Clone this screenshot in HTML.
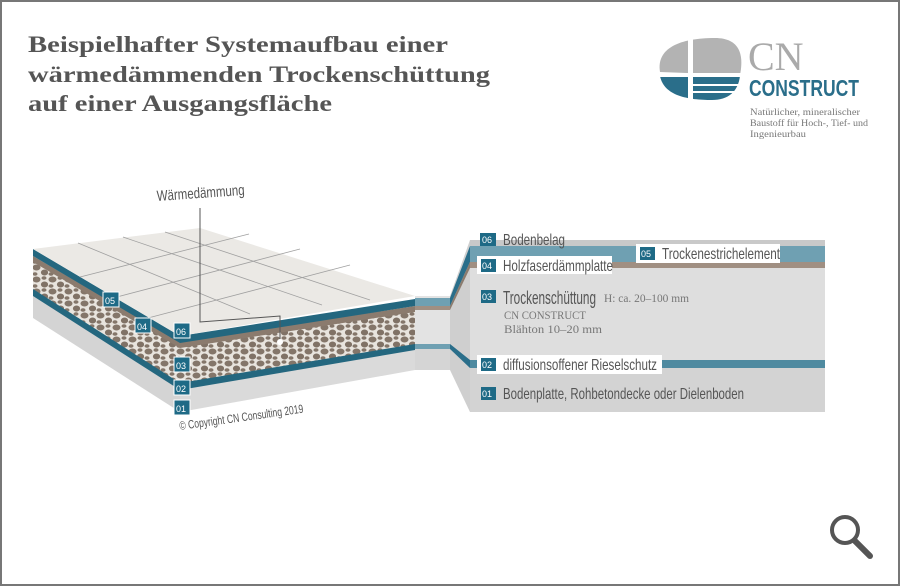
<!DOCTYPE html>
<html><head><meta charset="utf-8"><style>
html,body{margin:0;padding:0;background:#fff}
svg{display:block}
.t{font-family:"Liberation Serif",serif;font-weight:bold;font-size:23px;fill:#555}
.n{font-family:"Liberation Sans",sans-serif;fill:#555}
.num{font-family:"Liberation Sans",sans-serif;font-size:9px;fill:#fff}
.s{font-family:"Liberation Serif",serif;fill:#777}
</style></head><body>
<svg width="900" height="586" viewBox="0 0 900 586" xmlns="http://www.w3.org/2000/svg">
<rect x="1" y="1" width="898" height="584" fill="#fff" stroke="#777" stroke-width="2"/>
<text class="t" x="28" y="52" textLength="420" lengthAdjust="spacingAndGlyphs">Beispielhafter Systemaufbau einer</text>
<text class="t" x="28" y="82" textLength="462" lengthAdjust="spacingAndGlyphs">wärmedämmenden Trockenschüttung</text>
<text class="t" x="28" y="111" textLength="304" lengthAdjust="spacingAndGlyphs">auf einer Ausgangsfläche</text>

<path d="M660 72 C656 48 680 38 715 38 C740 38 744 55 740 75 Z" fill="#b3b3b3"/>
<path d="M660 76 L740 76 C738 92 728 100 712 100 C688 100 664 96 660 76 Z" fill="#2a6e8a"/>
<rect x="688" y="36" width="5" height="66" fill="#fff"/>
<rect x="656" y="73" width="88" height="4" fill="#fff"/>
<rect x="690" y="84" width="52" height="2" fill="#fff"/>
<rect x="690" y="91" width="52" height="2" fill="#fff"/>
<text x="748" y="70" font-family="Liberation Serif,serif" font-size="40" fill="#aaa">CN</text>
<text x="749" y="96" font-family="'Liberation Sans',sans-serif" font-weight="bold" font-size="23" fill="#2a6e8a" textLength="110" lengthAdjust="spacingAndGlyphs">CONSTRUCT</text>
<text class="s" x="750" y="115" font-size="9.5" textLength="110" lengthAdjust="spacingAndGlyphs">Natürlicher, mineralischer</text>
<text class="s" x="750" y="126" font-size="9.5" textLength="118" lengthAdjust="spacingAndGlyphs">Baustoff für Hoch-, Tief- und</text>
<text class="s" x="750" y="137" font-size="9.5" textLength="56" lengthAdjust="spacingAndGlyphs">Ingenieurbau</text>

<defs>
<pattern id="peb" width="16" height="12" patternUnits="userSpaceOnUse">
<rect width="16" height="12" fill="#e8e4de"/>
<ellipse cx="4.5" cy="3.5" rx="4" ry="3" fill="#84766a"/>
<ellipse cx="12.5" cy="8.5" rx="3.6" ry="3" fill="#807266"/>
<ellipse cx="3" cy="10" rx="2.5" ry="1.8" fill="#84766a"/>
<ellipse cx="12" cy="2" rx="2.5" ry="1.8" fill="#84766a"/>
</pattern>
</defs>
<polygon points="33,290 180,385 180,412 33,318" fill="#d4d4d4"/>
<polygon points="180,385 415,348 415,370 180,412" fill="#dadada"/>
<polygon points="33,258 180,345 180,387 33,294" fill="url(#peb)"/>
<polygon points="180,345 415,308 415,348 180,387" fill="url(#peb)"/>
<polygon points="33,289 180,383 180,390 33,296" fill="#24677f"/>
<polygon points="180,383 415,344 415,350 180,390" fill="#24677f"/>
<polygon points="33,256 180,342 180,348 33,262" fill="#8b7b6e"/>
<polygon points="180,342 415,306 415,312 180,348" fill="#8b7b6e"/>
<polygon points="33,249 180,336 180,343 33,256" fill="#24677f"/>
<polygon points="180,336 415,299 415,306 180,343" fill="#24677f"/>
<polygon points="33,249 200,228 415,296 180,336" fill="#ebe9e5"/>
<g stroke="#a0a0a0" stroke-width="0.8" fill="none">
<line x1="78" y1="243" x2="250" y2="314"/><line x1="123" y1="237" x2="322" y2="305"/><line x1="165" y1="232" x2="370" y2="300"/>
<line x1="80" y1="277" x2="249" y2="234"/><line x1="113" y1="298" x2="300" y2="249"/><line x1="148" y1="318" x2="350" y2="265"/>
</g>
<text class="n" x="157" y="201" font-size="15" textLength="88" lengthAdjust="spacingAndGlyphs" transform="rotate(-4 157 200)">Wärmedämmung</text>
<polyline points="200,208 200,322 280,316 280,340" fill="none" stroke="#555" stroke-width="1"/>
<circle cx="280" cy="342" r="3" fill="#fff"/>
<text class="n" x="180" y="430" font-size="12" textLength="125" lengthAdjust="spacingAndGlyphs" transform="rotate(-8 180 430)">© Copyright CN Consulting 2019</text>
<g>
<rect x="103" y="292" width="16" height="15" fill="#1e6a86" stroke="#fff"/><text class="num" x="105" y="304">05</text>
<rect x="135" y="318" width="16" height="15" fill="#1e6a86" stroke="#fff"/><text class="num" x="137" y="330">04</text>
<rect x="174" y="323" width="16" height="15" fill="#1e6a86" stroke="#fff"/><text class="num" x="176" y="335">06</text>
<rect x="174" y="357" width="16" height="15" fill="#1e6a86" stroke="#fff"/><text class="num" x="176" y="369">03</text>
<rect x="174" y="380" width="16" height="15" fill="#1e6a86" stroke="#fff"/><text class="num" x="176" y="392">02</text>
<rect x="174" y="400" width="16" height="15" fill="#1e6a86" stroke="#fff"/><text class="num" x="176" y="412">01</text>
</g>

<rect x="415" y="296" width="35" height="74" fill="#e3e3e3"/>
<rect x="415" y="298" width="35" height="8" fill="#6fa0b2"/>
<rect x="415" y="306" width="35" height="4" fill="#a08f82"/>
<rect x="415" y="344" width="35" height="5" fill="#6fa0b2"/>
<rect x="415" y="349" width="35" height="21" fill="#d5d5d5"/>
<polygon points="450,296 470,240 470,412 450,370" fill="#cfcfcf"/>
<polygon points="450,298 470,246 470,262 450,306" fill="#2a6e8a"/>
<polygon points="450,306 470,262 470,268 450,310" fill="#8b7b6e"/>
<polygon points="450,344 470,360 470,368 450,349" fill="#2a6e8a"/>
<rect x="470" y="240" width="355" height="172" fill="#dedede"/>
<rect x="470" y="240" width="355" height="6" fill="#c9c9c9"/>
<rect x="470" y="246" width="355" height="16" fill="#6fa0b2"/>
<rect x="470" y="262" width="355" height="6" fill="#a08f82"/>
<rect x="470" y="360" width="355" height="8" fill="#4f8aa0"/>
<rect x="470" y="368" width="355" height="44" fill="#d3d3d3"/>

<rect x="480" y="233" width="16" height="13" fill="#1e6a86"/><text class="num" x="482" y="243">06</text>
<text class="n" x="503" y="245" font-size="16" textLength="62" lengthAdjust="spacingAndGlyphs">Bodenbelag</text>
<rect x="477" y="256" width="135" height="18" fill="#fff"/>
<rect x="481" y="259" width="15" height="13" fill="#1e6a86"/><text class="num" x="482" y="269">04</text>
<text class="n" x="503" y="271" font-size="16" textLength="110" lengthAdjust="spacingAndGlyphs">Holzfaserdämmplatte</text>
<rect x="636" y="244" width="144" height="19" fill="#fff"/>
<rect x="640" y="247" width="15" height="13" fill="#1e6a86"/><text class="num" x="641" y="257">05</text>
<text class="n" x="662" y="259" font-size="16" textLength="118" lengthAdjust="spacingAndGlyphs">Trockenestrichelement</text>
<rect x="481" y="290" width="15" height="13" fill="#1e6a86"/><text class="num" x="482" y="300">03</text>
<text class="n" x="503" y="304" font-size="18" textLength="93" lengthAdjust="spacingAndGlyphs">Trockenschüttung</text>
<text class="s" x="604" y="302" font-size="12" textLength="85" lengthAdjust="spacingAndGlyphs">H: ca. 20–100 mm</text>
<text class="s" x="504" y="319" font-size="12" textLength="82" lengthAdjust="spacingAndGlyphs">CN CONSTRUCT</text>
<text class="s" x="504" y="333" font-size="12" textLength="98" lengthAdjust="spacingAndGlyphs">Blähton 10–20 mm</text>
<rect x="477" y="355" width="185" height="19" fill="#fff"/>
<rect x="481" y="358" width="15" height="13" fill="#1e6a86"/><text class="num" x="482" y="368">02</text>
<text class="n" x="503" y="370" font-size="16" textLength="154" lengthAdjust="spacingAndGlyphs">diffusionsoffener Rieselschutz</text>
<rect x="481" y="387" width="15" height="13" fill="#1e6a86"/><text class="num" x="482" y="397">01</text>
<text class="n" x="503" y="399" font-size="16" textLength="241" lengthAdjust="spacingAndGlyphs">Bodenplatte, Rohbetondecke oder Dielenboden</text>

<circle cx="845" cy="530" r="13" fill="none" stroke="#555" stroke-width="4"/>
<line x1="855" y1="541" x2="870" y2="556" stroke="#555" stroke-width="6" stroke-linecap="round"/>
</svg>
</body></html>
